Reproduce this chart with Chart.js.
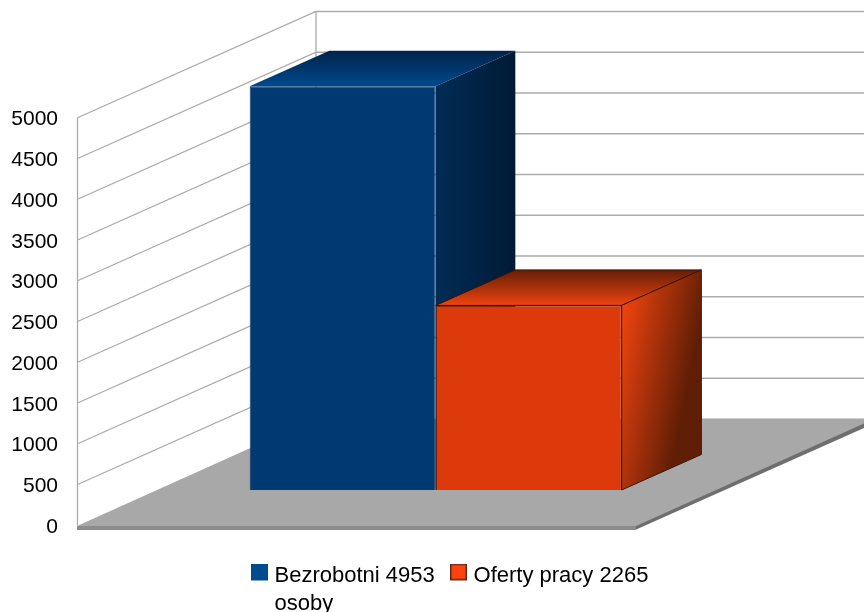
<!DOCTYPE html>
<html><head><meta charset="utf-8">
<style>html,body{margin:0;padding:0;background:#fff;overflow:hidden}canvas{display:block}</style>
<script src="https://cdn.jsdelivr.net/npm/chart.js@4"></script>
</head><body><canvas id="c" width="864" height="612"></canvas>
<script>
const categories = [''];
const unemployed = [4953];
const jobOffers = [2265];
const legendLabels = [['Bezrobotni 4953', 'osoby'], ['Oferty pracy 2265']];
const tickValues = [0,500,1000,1500,2000,2500,3000,3500,4000,4500,5000];

const WALL_DX = 239, WALL_DY = 106.5;
const BAR_DX = WALL_DX/3, BAR_DY = WALL_DY/3;
const GRID = '#ababab';
const LEGEND_PAD = -45;

const shades = [
  {top:['#00234a','#004a8e'], side:['#002c56','#001a35'], edge:null},
  {top:['#651e05','#ee430f'], side:['#f2440f','#5f1e05'], edge:'#3a1408'}
];

function poly(ctx, pts, fill, stroke){
  ctx.beginPath();
  pts.forEach((p,i)=> i ? ctx.lineTo(p[0],p[1]) : ctx.moveTo(p[0],p[1]));
  ctx.closePath();
  if(fill){ctx.fillStyle=fill;ctx.fill();}
  if(stroke){ctx.strokeStyle=stroke;ctx.lineWidth=1;ctx.stroke();}
}

function swatch(fill, stroke){
  const c = document.createElement('canvas');
  c.width = 17; c.height = 25;
  const g = c.getContext('2d');
  g.fillStyle = fill; g.fillRect(0,0,17,17);
  g.strokeStyle = stroke; g.lineWidth = 1.5; g.strokeRect(.75,.75,15.5,15.5);
  return c;
}

const scene = {
  id:'scene',
  afterLayout(chart){
    const l = chart.legend;
    l.left = 255.5 - LEGEND_PAD; l.right = 3000; l.top = 565 - LEGEND_PAD; l.bottom = 612;
    l.draw = function(){ this._draw(); };
  },
  beforeDatasetsDraw(chart){
    const {ctx, chartArea:a, scales:{y}} = chart;
    const y0 = y.getPixelForValue(0);
    const farRight = a.right + WALL_DX;
    ctx.save();
    // floor
    poly(ctx, [[a.left,y0+4.5],[a.right,y0+4.5],[farRight,y0+4.5-WALL_DY],[farRight,y0-WALL_DY]], '#6e6e6e');
    poly(ctx, [[a.left,y0+.5],[a.right+1,y0+.5],[a.right+1,y0+4.5],[a.left,y0+4.5]], '#8c8c8c');
    poly(ctx, [[a.left,y0+.5],[a.right+1,y0+.5],[farRight+1,y0-.5-WALL_DY],[a.left+WALL_DX,y0-.5-WALL_DY]], '#a8a8a8');
    // walls
    ctx.strokeStyle = GRID; ctx.lineWidth = 1.3;
    ctx.beginPath();
    tickValues.forEach(v=>{
      const p = y.getPixelForValue(v);
      if(v>0){
        ctx.moveTo(a.left,p); ctx.lineTo(a.left+WALL_DX,p-WALL_DY); ctx.lineTo(864,p-WALL_DY);
      }
    });
    const yt = y.getPixelForValue(5000);
    ctx.moveTo(a.left+.5,yt); ctx.lineTo(a.left+.5,y0);
    ctx.moveTo(a.left+WALL_DX,yt-WALL_DY); ctx.lineTo(a.left+WALL_DX,y0-WALL_DY);
    ctx.stroke();
    ctx.restore();

    // extruded faces, derived from the library's bar elements
    ctx.save();
    ctx.translate(BAR_DX,-BAR_DY);
    chart.data.datasets.forEach((ds,i)=>{
      const bar = chart.getDatasetMeta(i).data[0];
      const L = bar.x-bar.width/2, R = bar.x+bar.width/2, T = bar.y, B = bar.base;
      const s = shades[i];
      const gt = ctx.createLinearGradient(0,T-BAR_DY,0,T);
      gt.addColorStop(0,s.top[0]); gt.addColorStop(1,s.top[1]);
      poly(ctx, [[L,T],[L+BAR_DX,T-BAR_DY],[R+BAR_DX,T-BAR_DY],[R,T]], gt, s.edge);
      const gs = ctx.createLinearGradient(R,T,R+BAR_DX,T+(i?16:0));
      gs.addColorStop(0,s.side[0]); gs.addColorStop(1,s.side[1]);
      poly(ctx, [[R,T],[R+BAR_DX,T-BAR_DY],[R+BAR_DX,B-BAR_DY],[R,B]], gs, s.edge);
    });
    ctx.restore();
    ctx.save();
    ctx.translate(BAR_DX,-BAR_DY);
  },
  afterDatasetsDraw(chart){ chart.ctx.restore(); }
};

new Chart(document.getElementById('c'),{
  type:'bar',
  data:{labels:categories,datasets:[
    {label:legendLabels[0].join(' '),data:unemployed,backgroundColor:'#013a72',borderColor:'#013a72',borderWidth:1,clip:false,
     categoryPercentage:2/3,barPercentage:1},
    {label:legendLabels[1][0],data:jobOffers,backgroundColor:'#dd3a0c',borderColor:'#3a1408',borderWidth:1,clip:false,
     categoryPercentage:2/3,barPercentage:1}
  ]},
  options:{
    responsive:false,animation:false,
    layout:{padding:{left:0,right:229,top:118,bottom:86.5}},
    scales:{
      x:{display:false},
      y:{min:0,max:5000,
        afterFit(s){s.width=77;},
        afterBuildTicks(s){s.ticks=tickValues.map(v=>({value:v}));},
        grid:{display:false,drawTicks:false},border:{display:false},
        ticks:{padding:19,labelOffset:1.5,color:'#000',font:{family:'"Liberation Sans"',size:21},callback:v=>String(v)}}
    },
    plugins:{
      tooltip:{enabled:false},
      legend:{position:'bottom',align:'start',
        labels:{
          color:'#000',
          font:{family:'"Liberation Sans"',size:22,lineHeight:1.25},
          usePointStyle:true,pointStyleWidth:8,boxHeight:15,padding:LEGEND_PAD,
          generateLabels(){
            return [
              {text:legendLabels[0],pointStyle:swatch('#004a8e','#004a8e'),fontColor:'#000',datasetIndex:0},
              {text:legendLabels[1][0],pointStyle:swatch('#ff420e','#5a2a1a'),fontColor:'#000',datasetIndex:1}
            ];
          }
        }}
    }
  },
  plugins:[scene]
});
</script></body></html>
